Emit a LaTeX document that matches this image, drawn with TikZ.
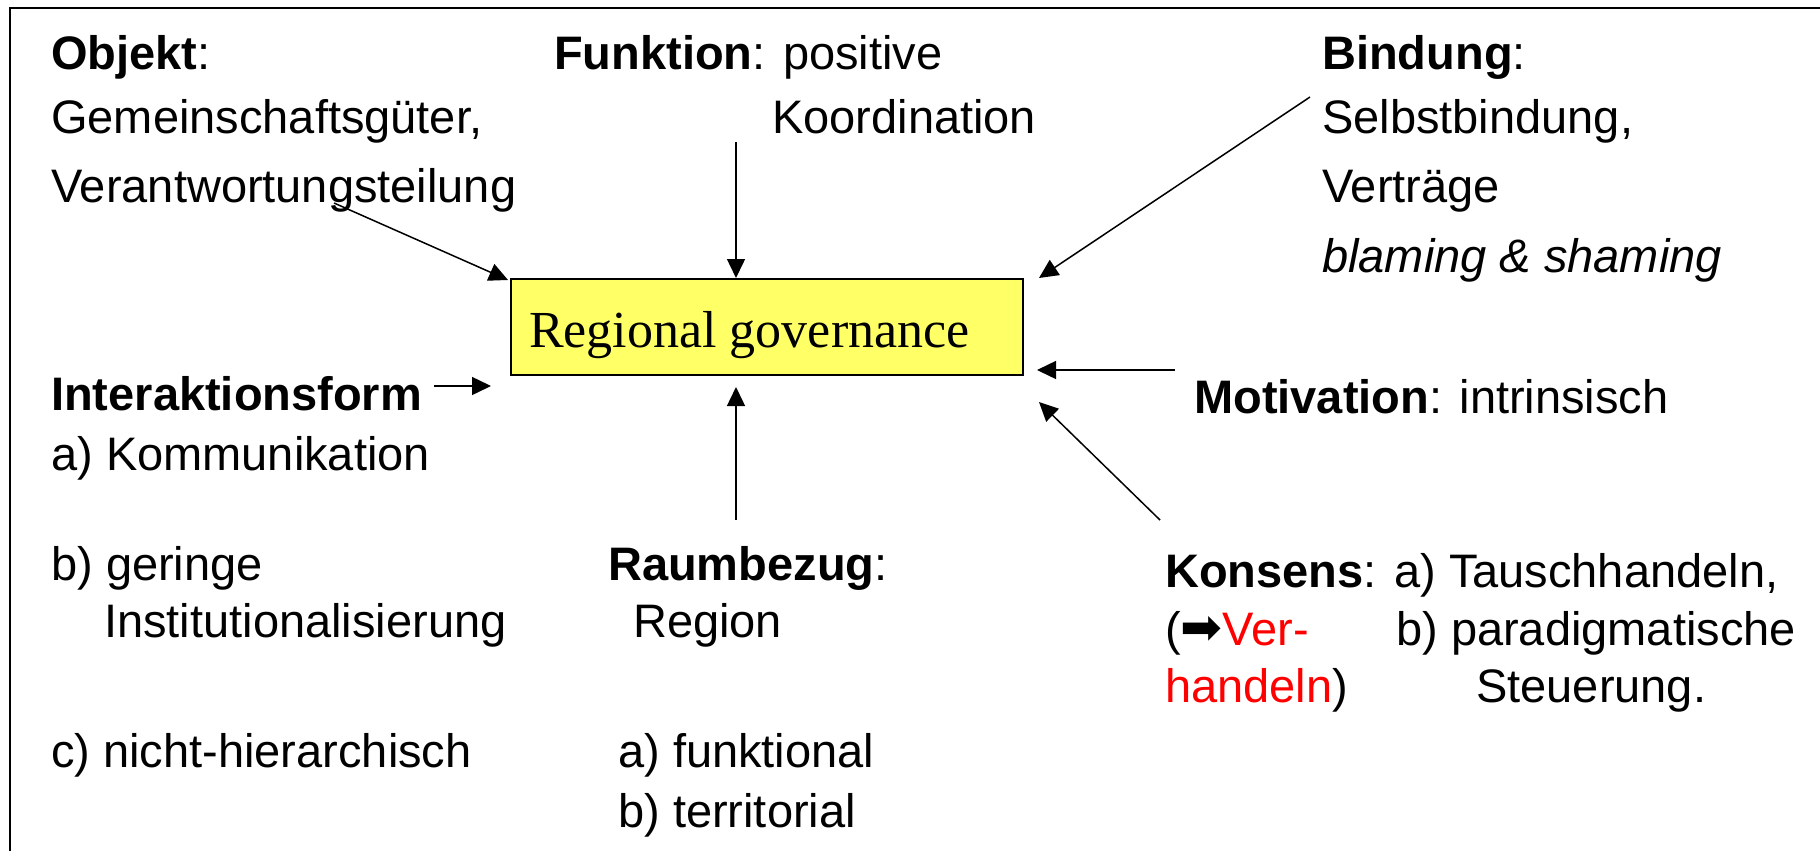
\documentclass[tikz,border=0pt]{standalone}
\usepackage{fontspec}
\setmainfont{Liberation Sans}
\newfontfamily\timesf{Liberation Serif}
\newfontfamily\dejavu{DejaVu Sans}
\usetikzlibrary{arrows.meta,calc}
\definecolor{boxyellow}{RGB}{255,255,102}
\definecolor{redtxt}{RGB}{255,0,0}
\tikzset{
  lbl/.style={anchor=base west, inner sep=0pt, font=\fontsize{47}{56}\selectfont},
  conn/.style={line width=1.5pt, -{Triangle[length=19pt,width=18pt]}},
  govbox/.style={draw=black, line width=1.5pt, fill=boxyellow, anchor=north west,
    minimum width=512pt, minimum height=96pt, inner sep=0pt},
}
\begin{document}
\begin{tikzpicture}[x=1pt,y=-1pt]
\useasboundingbox (0,0) rectangle (1820,851);
\begin{scope}
\clip (0,0) rectangle (1820,851);
\draw[line width=2pt] (10,8) rectangle (1900,900);
\end{scope}

% central box
\node[govbox] (box) at (510,278) {};
\node[anchor=base west, inner sep=0pt, font=\timesf\fontsize{52}{60}\selectfont] (boxtext) at (529,347) {Regional governance};

% Objekt
\node[lbl] (obj1) at (51,70) {\textbf{Objekt}:};
\node[lbl] (obj2) at (51,133) {Gemeinschaftsgüter,};
\node[lbl] (obj3) at (51,202) {Verantwortungsteilung};

% Funktion
\node[lbl] (fun1) at (554,70) {\textbf{Funktion}: positive};
\node[lbl] (fun2) at (772,133) {Koordination};

% Bindung
\node[lbl] (bin1) at (1322,70) {\textbf{Bindung}:};
\node[lbl] (bin2) at (1322,133) {Selbstbindung,};
\node[lbl] (bin3) at (1322,202) {Verträge};
\node[lbl] (bin4) at (1322,272) {\itshape blaming \& shaming};

% Interaktionsform
\node[lbl] (int1) at (51,410) {\textbf{Interaktionsform}};
\node[lbl] (int2) at (51,470) {a) Kommunikation};
\node[lbl] (int3) at (51,580) {b) geringe};
\node[lbl] (int4) at (104,637) {Institutionalisierung};
\node[lbl] (int5) at (51,767) {c) nicht-hierarchisch};

% Raumbezug
\node[lbl] (rau1) at (608,580) {\textbf{Raumbezug}:};
\node[lbl] (rau2) at (633,637) {Region};
\node[lbl] (rau3) at (618,767) {a) funktional};
\node[lbl] (rau4) at (618,827) {b) territorial};

% Motivation
\node[lbl] (mot) at (1194,413) {\textbf{Motivation}: intrinsisch};

% Konsens
\node[lbl] (kon1) at (1165,587) {\textbf{Konsens}: a) Tauschhandeln,};
\node[lbl] (kon2) at (1165,645) {(\raisebox{1pt}{\dejavu\fontsize{50}{56}\selectfont\symbol{"27A1}}\textcolor{redtxt}{Ver-}};
\node[lbl] (kon3) at (1396,645) {b) paradigmatische};
\node[lbl] (kon4) at (1165,702) {\textcolor{redtxt}{handeln})};
\node[lbl] (kon5) at (1476,702) {Steuerung.};

% connector ends
\coordinate (objS) at (334,203);
\coordinate (objT) at (508,280);
\coordinate (funS) at (736,142);
\coordinate (funT) at (736,278);
\coordinate (binS) at (1310,97);
\coordinate (binT) at (1039,278);
\coordinate (intS) at (434,386);
\coordinate (intT) at (491,386);
\coordinate (motS) at (1175,370);
\coordinate (motT) at (1037,370);
\coordinate (konS) at (1160,520);
\coordinate (konT) at (1039,402);
\coordinate (rauS) at (736,520);
\coordinate (rauT) at (736,387);

\draw[conn] (objS) -- (objT);
\draw[conn] (funS) -- (funT);
\draw[conn] (binS) -- (binT);
\draw[conn] (intS) -- (intT);
\draw[conn] (motS) -- (motT);
\draw[conn] (konS) -- (konT);
\draw[conn] (rauS) -- (rauT);
\end{tikzpicture}
\end{document}
